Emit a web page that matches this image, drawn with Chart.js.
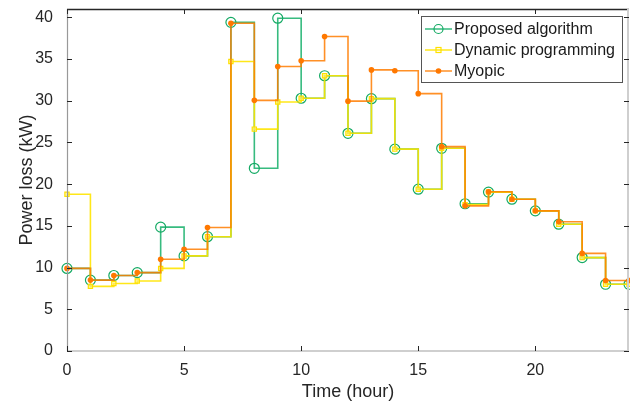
<!DOCTYPE html>
<html>
<head>
<meta charset="utf-8">
<script src="https://cdn.jsdelivr.net/npm/chart.js@4.4.1/dist/chart.umd.min.js"></script>
<style>
html,body{margin:0;padding:0;background:#fff;}
#wrap{width:630px;height:403px;}
</style>
</head>
<body>
<div id="wrap"><canvas id="c" width="630" height="403"></canvas></div>
<script>
const hours = [0,1,2,3,4,5,6,7,8,9,10,11,12,13,14,15,16,17,18,19,20,21,22,23,24];
const proposed = [9.9,8.5,9.05,9.4,14.85,11.4,13.7,39.4,21.9,39.9,30.3,33.0,26.1,30.25,24.2,19.4,24.3,17.65,19.05,18.2,16.8,15.2,11.2,8.0,8.0];
const dynamicProg = [18.8,7.75,8.1,8.4,9.9,11.4,13.7,34.7,26.6,29.85,30.3,33.0,26.1,30.25,24.2,19.4,24.3,17.55,19.05,18.2,16.8,15.2,11.2,8.0,8.0];
const myopic = [9.9,8.5,9.05,9.4,11.0,12.2,14.8,39.3,30.05,34.1,34.8,37.7,29.95,33.7,33.6,30.85,24.5,17.4,19.1,18.2,16.8,15.5,11.7,8.45,8.45];
const seriesNames = ['Proposed algorithm','Dynamic programming','Myopic'];
const xTicks = [0,5,10,15,20];
const yTicks = [0,5,10,15,20,25,30,35,40];

const GREEN = 'rgba(20,175,105,0.85)';
const YELLOW = 'rgba(255,228,0,0.9)';
const ORANGE = 'rgba(255,125,0,0.85)';

function pts(arr){ return hours.map((h,i)=>({x:h,y:arr[i]})); }

const FONT = '"Liberation Sans", Arial, sans-serif';

const framePlugin = {
  id:'frame',
  afterDatasetsDraw(chart){
    const {ctx, chartArea:a, scales} = chart;
    ctx.save();
    ctx.lineWidth = 1.5;
    ctx.strokeStyle = '#262626';
    ctx.beginPath(); ctx.moveTo(a.left, a.top+0.5); ctx.lineTo(a.right, a.top+0.5); ctx.stroke();
    ctx.strokeStyle = '#cfcfcf';
    ctx.lineWidth = 2;
    ctx.beginPath(); ctx.moveTo(a.left, a.bottom); ctx.lineTo(a.right, a.bottom); ctx.stroke();
    ctx.beginPath(); ctx.moveTo(a.right-1, a.top); ctx.lineTo(a.right-1, a.bottom); ctx.stroke();
    ctx.strokeStyle = '#999999';
    ctx.lineWidth = 1.2;
    ctx.beginPath(); ctx.moveTo(a.left+0.5, a.top); ctx.lineTo(a.left+0.5, a.bottom); ctx.stroke();
    ctx.strokeStyle = '#262626';
    ctx.lineWidth = 1;
    const tl = 5;
    scales.x.ticks.forEach(t=>{
      const px = Math.round(scales.x.getPixelForValue(t.value))+0.5;
      ctx.beginPath(); ctx.moveTo(px, a.bottom); ctx.lineTo(px, a.bottom-tl); ctx.stroke();
      ctx.beginPath(); ctx.moveTo(px, a.top); ctx.lineTo(px, a.top+tl); ctx.stroke();
    });
    scales.y.ticks.forEach(t=>{
      const py = Math.round(scales.y.getPixelForValue(t.value))+0.5;
      ctx.beginPath(); ctx.moveTo(a.left, py); ctx.lineTo(a.left+tl, py); ctx.stroke();
      ctx.beginPath(); ctx.moveTo(a.right, py); ctx.lineTo(a.right-tl, py); ctx.stroke();
    });
    ctx.restore();
  },
  afterDraw(chart){
    const ctx = chart.ctx;
    ctx.save();
    const lx = 421, ly = 16, lw = 201, lh = 66;
    ctx.fillStyle = '#fff';
    ctx.fillRect(lx, ly, lw, lh);
    ctx.strokeStyle = '#555';
    ctx.lineWidth = 1;
    ctx.strokeRect(lx+0.5, ly+0.5, lw, lh);
    const rows = [29, 50, 71];
    chart.data.datasets.forEach((ds, i)=>{
      const y = rows[i];
      ctx.strokeStyle = ds.borderColor;
      ctx.lineWidth = 1.5;
      ctx.beginPath(); ctx.moveTo(425, y); ctx.lineTo(452, y); ctx.stroke();
      const mx = 438.5;
      if (i===0){
        ctx.strokeStyle = ds.pointBorderColor; ctx.lineWidth = 1.2;
        ctx.beginPath(); ctx.arc(mx, y, 4.5, 0, Math.PI*2); ctx.stroke();
      } else if (i===1){
        ctx.strokeStyle = ds.pointBorderColor; ctx.lineWidth = 1.2;
        ctx.strokeRect(mx-2.5, y-2.5, 5, 5);
      } else {
        ctx.fillStyle = ds.pointBackgroundColor;
        ctx.beginPath(); ctx.arc(mx, y, 2.8, 0, Math.PI*2); ctx.fill();
      }
      ctx.fillStyle = '#1a1a1a';
      ctx.font = '16px ' + FONT;
      ctx.textBaseline = 'middle';
      ctx.textAlign = 'left';
      ctx.fillText(ds.label, 454, y+1);
    });
    ctx.restore();
  }
};

new Chart(document.getElementById('c'), {
  type:'line',
  data:{
    datasets:[
      {label:seriesNames[0], data:pts(proposed), stepped:'before', borderColor:GREEN, borderWidth:1.6, clip:false,
       pointStyle:'circle', pointRadius:5, pointBorderWidth:1.2, pointBorderColor:'rgb(20,170,100)', pointBackgroundColor:'rgba(0,0,0,0)', order:3},
      {label:seriesNames[1], data:pts(dynamicProg), stepped:'before', borderColor:YELLOW, borderWidth:1.6, clip:false,
       pointStyle:'rect', pointRadius:3, pointBorderWidth:1.2, pointBorderColor:'rgb(255,225,0)', pointBackgroundColor:'rgba(255,240,120,0.6)', order:2},
      {label:seriesNames[2], data:pts(myopic), stepped:'before', borderColor:ORANGE, borderWidth:1.6, clip:false,
       pointStyle:'circle', pointRadius:2.8, pointBorderWidth:0, pointBorderColor:'rgb(255,120,0)', pointBackgroundColor:'rgb(255,120,0)', order:1}
    ]
  },
  options:{
    responsive:false,
    animation:false,
    events:[],
    layout:{autoPadding:false, padding:{top:9, right:1, left:0, bottom:0}},
    plugins:{legend:{display:false}, tooltip:{enabled:false}},
    scales:{
      x:{type:'linear', min:0, max:24,
         afterBuildTicks(s){ s.ticks = xTicks.map(v=>({value:v})); },
         afterFit(s){ s.height = 52; s.paddingLeft = 0; s.paddingRight = 0; },
         grid:{display:false}, border:{display:false},
         ticks:{font:{family:FONT, size:16}, color:'#262626', padding:2, maxRotation:0},
         title:{display:true, text:'Time (hour)', font:{family:FONT, size:18}, color:'#262626', padding:{top:0,bottom:0}}
      },
      y:{type:'linear', min:0, max:41,
         afterBuildTicks(s){ s.ticks = yTicks.map(v=>({value:v})); },
         afterFit(s){ s.width = 67; s.paddingTop = 0; s.paddingBottom = 0; },
         grid:{display:false}, border:{display:false},
         ticks:{font:{family:FONT, size:16}, color:'#262626', padding:6},
         title:{display:true, text:'Power loss (kW)', font:{family:FONT, size:18}, color:'#262626', padding:{top:16,bottom:0}}
      }
    }
  },
  plugins:[framePlugin]
});
</script>
</body>
</html>
